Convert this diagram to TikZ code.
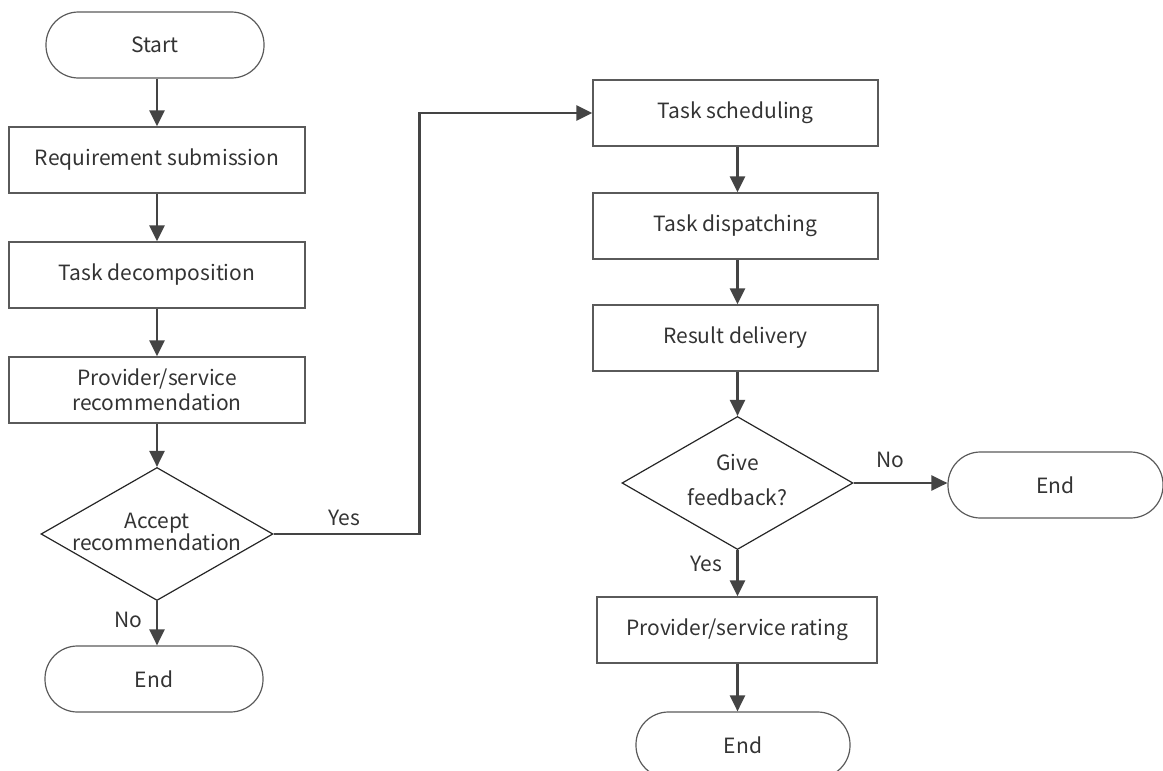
\documentclass[tikz,border=0pt]{standalone}
\usepackage{fontspec}
\setmainfont{Noto Sans CJK SC}
\usetikzlibrary{arrows.meta,shapes.geometric}
\definecolor{ink}{HTML}{333333}
\definecolor{edge}{HTML}{444444}
\definecolor{frame}{HTML}{5A5A5A}
\tikzset{
  every node/.style={text=ink, font=\fontsize{21}{25}\selectfont},
  stepbox/.style={draw=frame, line width=1.3pt, rectangle, minimum height=66pt, inner sep=0pt, align=center},
  term/.style={draw=frame, line width=1.2pt, rectangle, rounded corners=32.5pt, minimum width=218pt, minimum height=66pt, inner sep=0pt},
  dec/.style={draw=black!85, line width=1.2pt, diamond, inner sep=0pt, minimum width=232pt, minimum height=133pt},
  arr/.style={draw=edge, line width=2.4pt, -{Triangle[length=16pt,width=15pt]}},
  lbl/.style={inner sep=0pt}
}
\begin{document}
\begin{tikzpicture}[x=1pt,y=-1pt]
\useasboundingbox (0,0) rectangle (1163,771);
\clip (0,0) rectangle (1163,771);

% left column
\node[term] (start) at (155,45) {Start};
\node[stepbox, minimum width=296pt] (req) at (157,160) {Requirement submission};
\node[stepbox, minimum width=296pt] (dec1) at (157,275) {Task decomposition};
\node[stepbox, minimum width=296pt] (rec) at (157,390) {\fontsize{21}{27}\selectfont Provider/service\\recommendation};
\node[dec] (acc) at (157,534) {\makebox[0pt]{\begin{tabular}{@{}c@{}}Accept\\[-3pt]recommendation\end{tabular}}};
\node[term] (endl) at (154,679) {End};

% right column
\node[stepbox, minimum width=285pt] (sched) at (735.5,113) {Task scheduling};
\node[stepbox, minimum width=285pt] (disp) at (735.5,226) {Task dispatching};
\node[stepbox, minimum width=285pt] (deliv) at (735.5,338) {Result delivery};
\node[dec, minimum width=231pt] (fb) at (737.5,483) {\makebox[0pt]{\begin{tabular}{@{}c@{}}Give\\[10pt]feedback?\end{tabular}}};
\node[term, minimum width=215pt] (endr) at (1055.5,485) {End};
\node[stepbox, minimum width=280pt] (rate) at (737,630) {Provider/service rating};
\node[term, minimum width=214pt] (endb) at (743,745) {End};

% connectors
\draw[arr] (req.north |- start.south) -- (req.north);
\draw[arr] (req) -- (dec1);
\draw[arr] (dec1) -- (rec);
\draw[arr] (rec) -- (acc);
\draw[arr] (acc.south) -- (acc.south |- endl.north);
\draw[arr] (acc.east) -- ++(146,0) |- (sched.west);
\draw[arr] (fb.north |- sched.south) -- (fb.north |- disp.north);
\draw[arr] (fb.north |- disp.south) -- (fb.north |- deliv.north);
\draw[arr] (fb.north |- deliv.south) -- (fb.north);
\draw[arr] (fb.east) -- (endr.west |- fb.east);
\draw[arr] (fb.south) -- (fb.south |- rate.north);
\draw[arr] (fb.south |- rate.south) -- (fb.south |- endb.north);

% branch labels
\node[lbl] (yes1) at (344,518) {Yes};
\node[lbl] (no1) at (128,620) {No};
\node[lbl] (no2) at (890,460) {No};
\node[lbl] (yes2) at (706,564) {Yes};
\end{tikzpicture}
\end{document}
